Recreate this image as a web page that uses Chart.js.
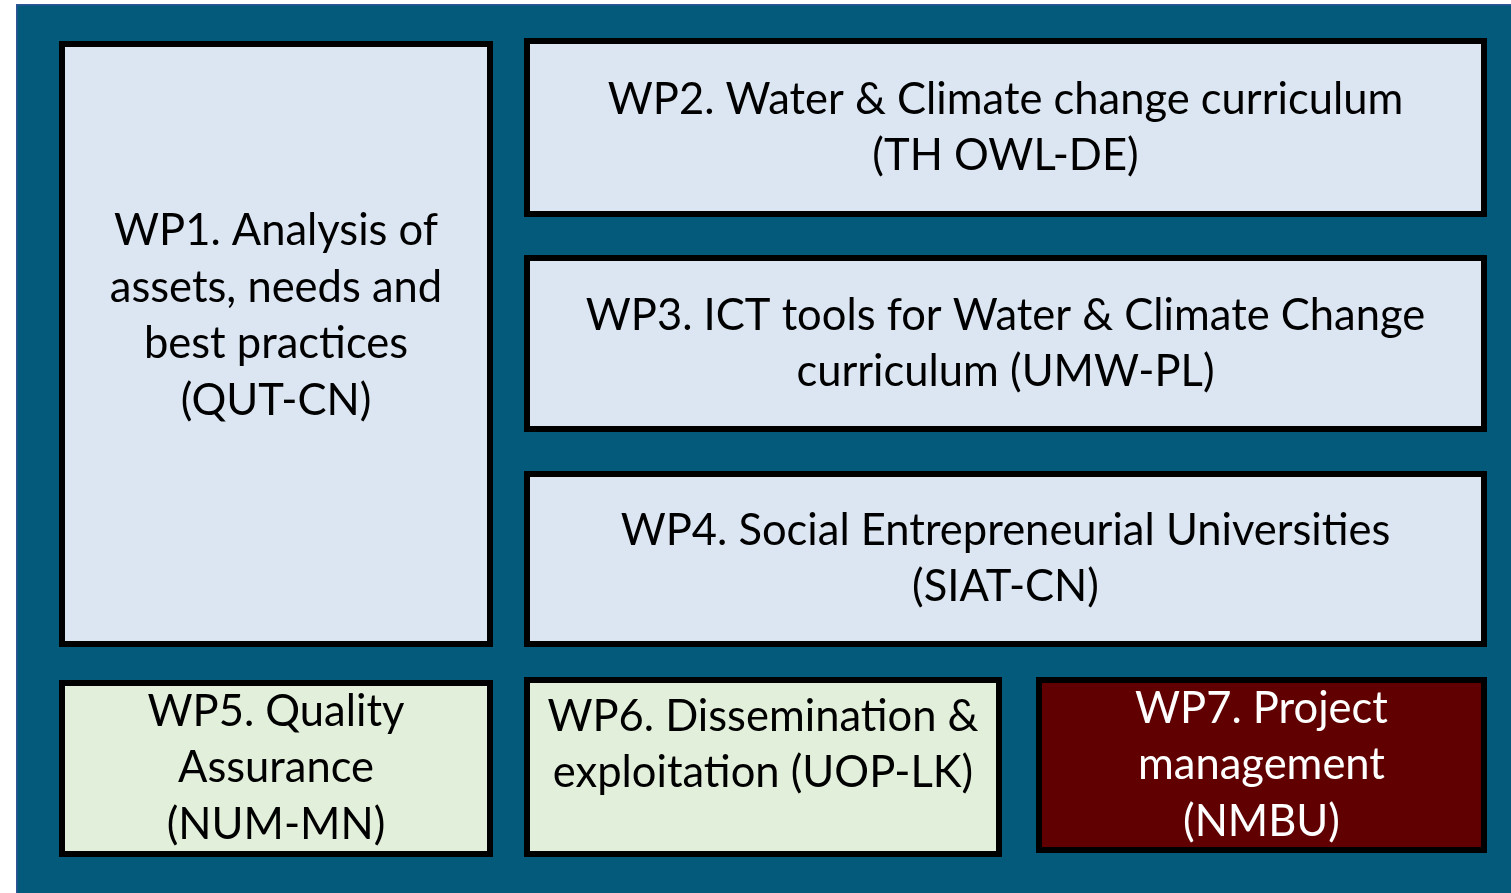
<!DOCTYPE html>
<html>
<head>
<meta charset="utf-8">
<script src="https://cdn.jsdelivr.net/npm/chart.js@4.4.1/dist/chart.umd.min.js"></script>
<style>
  html, body { margin: 0; padding: 0; background: #ffffff; }
  #wrap { width: 1511px; height: 893px; position: relative; }
</style>
</head>
<body>
<div id="wrap"><canvas id="wpChart"></canvas></div>
<script>
// Work packages (one entry per box)
const wpLabels = [
    ['WP1. Analysis of', 'assets, needs and', 'best practices', '(QUT-CN)'],
    ['WP2. Water & Climate change curriculum', '(TH OWL-DE)'],
    ['WP3. ICT tools for Water & Climate Change', 'curriculum (UMW-PL)'],
    ['WP4. Social Entrepreneurial Universities', '(SIAT-CN)'],
    ['WP5. Quality', 'Assurance', '(NUM-MN)'],
    ['WP6. Dissemination &', 'exploitation (UOP-LK)'],
    ['WP7. Project', 'management', '(NMBU)']
];
// box extents in layout units
const boxLeft   = [59, 524, 524, 524, 59, 524, 1036];
const boxRight  = [493, 1487, 1487, 1487, 493, 1002, 1487];
const boxTop    = [41, 38, 255, 471, 680, 677, 677];
const boxBottom = [647, 217, 432, 647, 857, 857, 853];
// vertical centre of each text block
const textMid   = [316, 128, 344, 559, 768, 745, 765];
const boxKind   = ['core', 'core', 'core', 'core', 'horizontal', 'horizontal', 'management'];

const kindFill = { core: '#dce6f2', horizontal: '#e2efda', management: '#600000' };
const kindText = { core: '#000000', horizontal: '#000000', management: '#ffffff' };

const boxesPlugin = {
    id: 'wpBoxes',
    beforeDatasetsDraw(chart) {
        const { ctx, scales: { x, y } } = chart;
        ctx.save();

        // panel background
        const px0 = x.getPixelForValue(16), py0 = y.getPixelForValue(4);
        const px1 = x.getPixelForValue(1511), py1 = y.getPixelForValue(893);
        ctx.fillStyle = '#035a7b';
        ctx.fillRect(px0, py0, px1 - px0, py1 - py0);
        ctx.fillStyle = '#2f5597';
        ctx.fillRect(px0, py0, 1.5, py1 - py0);
        ctx.fillRect(px0, py0, px1 - px0, 1.5);

        const bw = 6;
        const lineH = 56.5;
        wpLabels.forEach((lines, i) => {
            const l = x.getPixelForValue(boxLeft[i]);
            const r = x.getPixelForValue(boxRight[i]);
            const t = y.getPixelForValue(boxTop[i]);
            const b = y.getPixelForValue(boxBottom[i]);
            ctx.fillStyle = '#000000';
            ctx.fillRect(l, t, r - l, b - t);
            ctx.fillStyle = kindFill[boxKind[i]];
            ctx.fillRect(l + bw, t + bw, r - l - 2 * bw, b - t - 2 * bw);

            ctx.fillStyle = kindText[boxKind[i]];
            ctx.font = '43.5px Lato, "Open Sans", sans-serif';
            ctx.textAlign = 'center';
            ctx.textBaseline = 'middle';
            const cx = (l + r) / 2;
            const mid = y.getPixelForValue(textMid[i]);
            const first = mid - (lines.length - 1) * lineH / 2;
            lines.forEach((txt, k) => ctx.fillText(txt, cx, first + k * lineH));
        });
        ctx.restore();
    }
};

new Chart(document.getElementById('wpChart'), {
    type: 'scatter',
    data: { datasets: [{ data: [] }] },
    options: {
        responsive: true,
        maintainAspectRatio: false,
        animation: false,
        layout: { padding: 0 },
        plugins: { legend: { display: false }, tooltip: { enabled: false } },
        scales: {
            x: { type: 'linear', min: 0, max: 1511, display: false },
            y: { type: 'linear', min: 0, max: 893, reverse: true, display: false }
        }
    },
    plugins: [boxesPlugin]
});
</script>
</body>
</html>
